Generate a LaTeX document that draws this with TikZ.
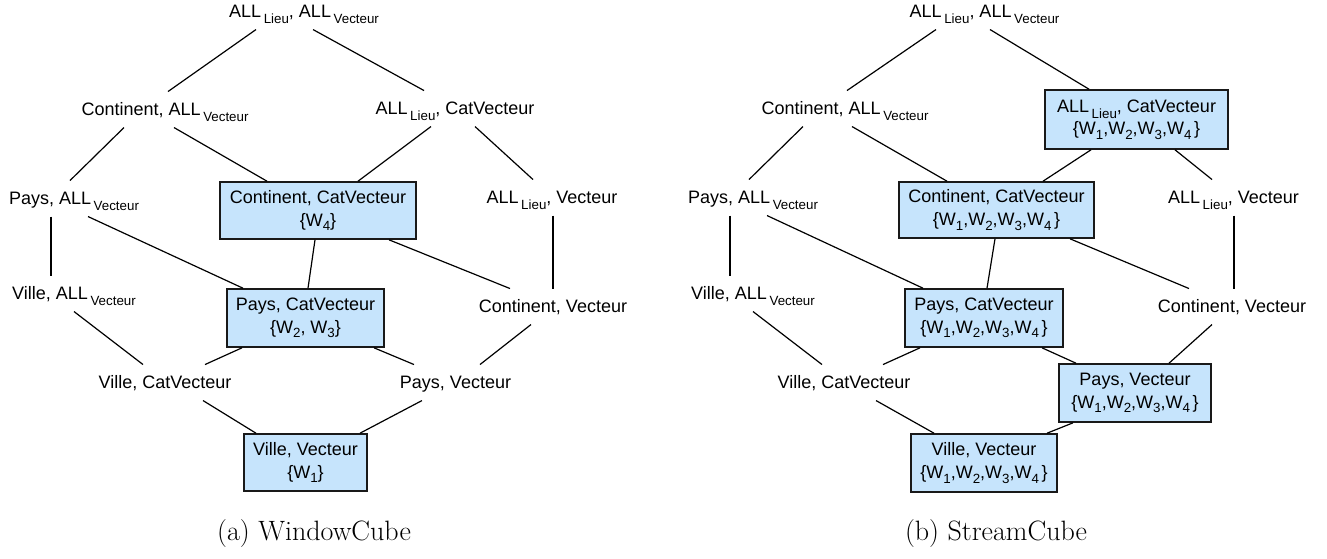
\documentclass[tikz,border=0pt]{standalone}
\usepackage{fontspec}
\newfontfamily\diagfont{Liberation Sans}
\definecolor{cellblue}{RGB}{198,228,252}
% lowered small labels after a dimension name / a window name
\newcommand\lsub[1]{\kern2pt\raisebox{-4.5pt}{\fontsize{10}{10}\selectfont #1}}
\newcommand\wsub[1]{\raisebox{-3.5pt}{\fontsize{10}{10}\selectfont #1}}
% connector from the bottom of one node to the top of another, with horizontal offsets
\newcommand\tie[4]{\draw[link] ([shift={(#2,0)}]#1.south) -- ([shift={(#4,0)}]#3.north);}
\begin{document}
\begin{tikzpicture}[x=0.75pt, y=-0.75pt,
  every node/.style={font=\diagfont\fontsize{13.5}{17}\selectfont},
  lbl/.style={inner sep=0pt, outer sep=0pt, anchor=base, text height=17.6pt, text depth=9.4pt},
  cell/.style={draw=black!90, line width=1.2pt, fill=cellblue, inner sep=0pt, align=center},
  link/.style={line width=0.9pt},
  caption/.style={font=\rmfamily\fontsize{21}{25}\selectfont, anchor=base, inner sep=0pt}]
\useasboundingbox (0,0) rectangle (1327,558);

% ---------------- (a) WindowCube ----------------
\node[lbl] (lt)   at (304,17)    {ALL\lsub{Lieu}, ALL\lsub{Vecteur}};
\node[lbl] (lca)  at (165,115)   {Continent, ALL\lsub{Vecteur}};
\node[lbl] (lac)  at (455,114)   {ALL\lsub{Lieu}, CatVecteur};
\node[lbl] (lpa)  at (74,204)    {Pays, ALL\lsub{Vecteur}};
\node[lbl] (lalv) at (552,203)   {ALL\lsub{Lieu}, Vecteur};
\node[lbl] (lva)  at (74,299)    {Ville, ALL\lsub{Vecteur}};
\node[lbl] (lcv)  at (553,312)   {Continent, Vecteur};
\node[lbl] (lvc)  at (165,388)   {Ville, CatVecteur};
\node[lbl] (lpv)  at (455.5,388) {Pays, Vecteur};

\node[cell, minimum width=147pt, minimum height=42.75pt] (lccv) at (318,210.5)
  {Continent, CatVecteur\\\{W\wsub{4}\}};
\node[cell, minimum width=117.75pt, minimum height=43.5pt] (lpcv) at (305.5,318)
  {Pays, CatVecteur\\\{W\wsub{2}, W\wsub{3}\}};
\node[cell, minimum width=92.25pt, minimum height=42.75pt] (lvv) at (305.5,462.5)
  {Ville, Vecteur\\\{W\wsub{1}\}};

\tie{lt}{-48}{lca}{3}
\tie{lt}{9}{lac}{-31}
\tie{lca}{-41}{lpa}{-4}
\tie{lca}{9}{lccv}{-51}
\tie{lac}{-24}{lccv}{40}
\tie{lac}{20}{lalv}{-19}
\tie{lpa}{-23}{lva}{-23}
\tie{lpa}{14}{lpcv}{-62.5}
\tie{lccv}{-3}{lpcv}{2.5}
\tie{lccv}{71}{lcv}{-43}
\tie{lalv}{1}{lcv}{0}
\tie{lva}{0}{lvc}{-22}
\tie{lpcv}{-63.5}{lvc}{40}
\tie{lpcv}{68.5}{lpv}{-41.5}
\tie{lcv}{-22}{lpv}{24.5}
\tie{lvc}{38}{lvv}{-49.5}
\tie{lpv}{-33.5}{lvv}{54.5}

\node[caption] (capa) at (314,540) {(a) WindowCube};

% ---------------- (b) StreamCube ----------------
\node[lbl] (rt)   at (984.5,17)  {ALL\lsub{Lieu}, ALL\lsub{Vecteur}};
\node[lbl] (rca)  at (845,114)   {Continent, ALL\lsub{Vecteur}};
\node[lbl] (rpa)  at (753,203)   {Pays, ALL\lsub{Vecteur}};
\node[lbl] (ralv) at (1233.5,203){ALL\lsub{Lieu}, Vecteur};
\node[lbl] (rva)  at (753,299)   {Ville, ALL\lsub{Vecteur}};
\node[lbl] (rcv)  at (1232,312)  {Continent, Vecteur};
\node[lbl] (rvc)  at (844,388)   {Ville, CatVecteur};

\node[cell, minimum width=137.25pt, minimum height=44.25pt] (racv) at (1136.5,119.5)
  {ALL\lsub{Lieu}, CatVecteur\\\{W\wsub{1},W\wsub{2},W\wsub{3},W\wsub{4}\kern2pt\}};
\node[cell, minimum width=146.25pt, minimum height=42pt] (rccv) at (996.5,210)
  {Continent, CatVecteur\\\{W\wsub{1},W\wsub{2},W\wsub{3},W\wsub{4}\kern2pt\}};
\node[cell, minimum width=118.5pt, minimum height=43.5pt] (rpcv) at (984,318)
  {Pays, CatVecteur\\\{W\wsub{1},W\wsub{2},W\wsub{3},W\wsub{4}\kern2pt\}};
\node[cell, minimum width=114pt, minimum height=43.5pt] (rpv) at (1135,393)
  {Pays, Vecteur\\\{W\wsub{1},W\wsub{2},W\wsub{3},W\wsub{4}\kern2pt\}};
\node[cell, minimum width=109.5pt, minimum height=43.5pt] (rvv) at (984,463)
  {Ville, Vecteur\\\{W\wsub{1},W\wsub{2},W\wsub{3},W\wsub{4}\kern2pt\}};

\tie{rt}{-48.5}{rca}{2}
\tie{rt}{5.5}{racv}{-47.5}
\tie{rca}{-42}{rpa}{-4}
\tie{rca}{7}{rccv}{-49.5}
\tie{racv}{-45.5}{rccv}{46.5}
\tie{racv}{38.5}{ralv}{-21.5}
\tie{rpa}{-23}{rva}{-23}
\tie{rpa}{14}{rpcv}{-61}
\tie{rccv}{-1.5}{rpcv}{3}
\tie{rccv}{73.5}{rcv}{-43}
\tie{ralv}{0.5}{rcv}{2}
\tie{rva}{0}{rvc}{-22}
\tie{rpcv}{-64}{rvc}{39}
\tie{rpcv}{58}{rpv}{-59}
\tie{rcv}{-20}{rpv}{34}
\tie{rvc}{32}{rvv}{-50}
\tie{rpv}{-62}{rvv}{63}

\node[caption] (capb) at (996,540) {(b) StreamCube};
\end{tikzpicture}
\end{document}
